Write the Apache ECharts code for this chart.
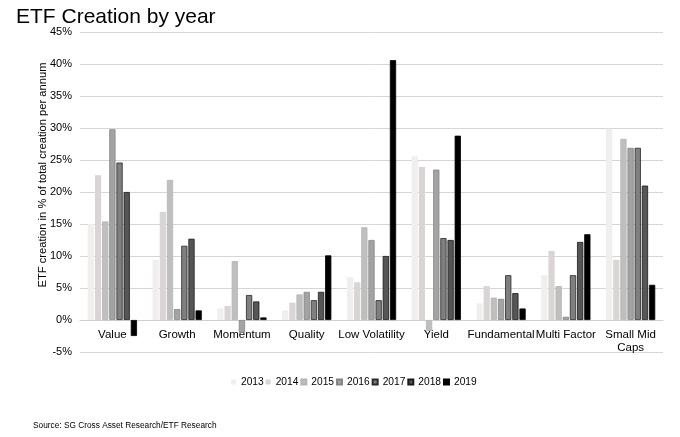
<!DOCTYPE html>
<html><head><meta charset="utf-8">
<script src="https://cdn.jsdelivr.net/npm/echarts@6/dist/echarts.min.js"></script>
<style>html,body{margin:0;padding:0;background:#fff}#c{width:680px;height:437px}</style>
</head><body><div id="c"></div>
<script>
const categories = ['Value','Growth','Momentum','Quality','Low Volatility','Yield','Fundamental','Multi Factor','Small Mid\nCaps'];
const years = ['2013','2014','2015','2016','2017','2018','2019'];
const v2013 = [15.0, 9.4, 1.8, 1.5, 6.7, 25.6, 2.6, 7.0, 29.9];
const v2014 = [22.6, 16.9, 2.2, 2.7, 5.9, 23.9, 5.3, 10.8, 9.4];
const v2015 = [15.4, 21.9, 9.2, 4.0, 14.5, -1.7, 3.5, 5.3, 28.3];
const v2016 = [29.8, 1.7, -2.0, 4.4, 12.5, 23.5, 3.3, 0.5, 26.9];
const v2017 = [24.6, 11.6, 3.9, 3.1, 3.1, 12.8, 7.0, 7.0, 26.9];
const v2018 = [20.0, 12.7, 2.9, 4.4, 10.0, 12.5, 4.2, 12.2, 21.0];
const v2019 = [-2.5, 1.5, 0.4, 10.1, 40.6, 28.8, 1.8, 13.4, 5.5];
const seriesValues = [v2013, v2014, v2015, v2016, v2017, v2018, v2019];
const yTicks = {min: -5, max: 45, interval: 5};
const fills = ['#f1eeee','#d9d5d5','#bfbfbf','#a3a3a3','#7f7f7f','#565656','#000000'];
const borders = ['#f1eeee','#d9d5d5','#b5b5b5','#858585','#2a2a2a','#1a1a1a','#000000'];
const FONT = 'Arial, "Liberation Sans", sans-serif';

const chart = echarts.init(document.getElementById('c'));
chart.setOption({
  animation: false,
  textStyle: {fontFamily: FONT},
  title: {text: 'ETF Creation by year', left: 11, top: 2,
    textStyle: {fontFamily: FONT, fontSize: 21, fontWeight: 'normal', color: '#000'}},
  graphic: [{type: 'text', left: 33, top: 422,
    style: {text: 'Source: SG Cross Asset Research/ETF Research', font: '8.3px ' + FONT, fill: '#000'}}],
  legend: {data: years, top: 372, left: 226, icon: 'rect', itemWidth: 5, itemHeight: 5, itemGap: 2,
    textStyle: {fontFamily: FONT, fontSize: 10.2, color: '#000'}},
  grid: {left: 80, right: 17, top: 32, bottom: 85},
  xAxis: {type: 'category', data: categories, offset: -32,
    axisLine: {onZero: false, lineStyle: {color: '#d0d0d0'}}, axisTick: {show: false},
    axisLabel: {color: '#000', fontSize: 11.5, fontFamily: FONT, interval: 0, margin: 8, lineHeight: 13}},
  yAxis: {type: 'value', min: yTicks.min, max: yTicks.max, interval: yTicks.interval,
    name: 'ETF creation in % of total creation per annum', nameLocation: 'middle', nameGap: 32,
    nameMoveOverlap: false,
    nameTextStyle: {color: '#000', fontSize: 11.2, fontFamily: FONT, padding: [0, 0, 0, 34]},
    axisLine: {show: false}, axisTick: {show: false},
    axisLabel: {formatter: '{value}%', color: '#000', fontSize: 11, fontFamily: FONT, margin: 8},
    splitLine: {lineStyle: {color: '#d6d6d6', width: 1}}},
  series: years.map((y, i) => ({
    name: y, type: 'bar', data: seriesValues[i],
    barGap: '15%', barCategoryGap: '24%',
    itemStyle: {color: fills[i], borderColor: borders[i], borderWidth: i >= 2 ? 0.8 : 0}
  }))
});
</script></body></html>
